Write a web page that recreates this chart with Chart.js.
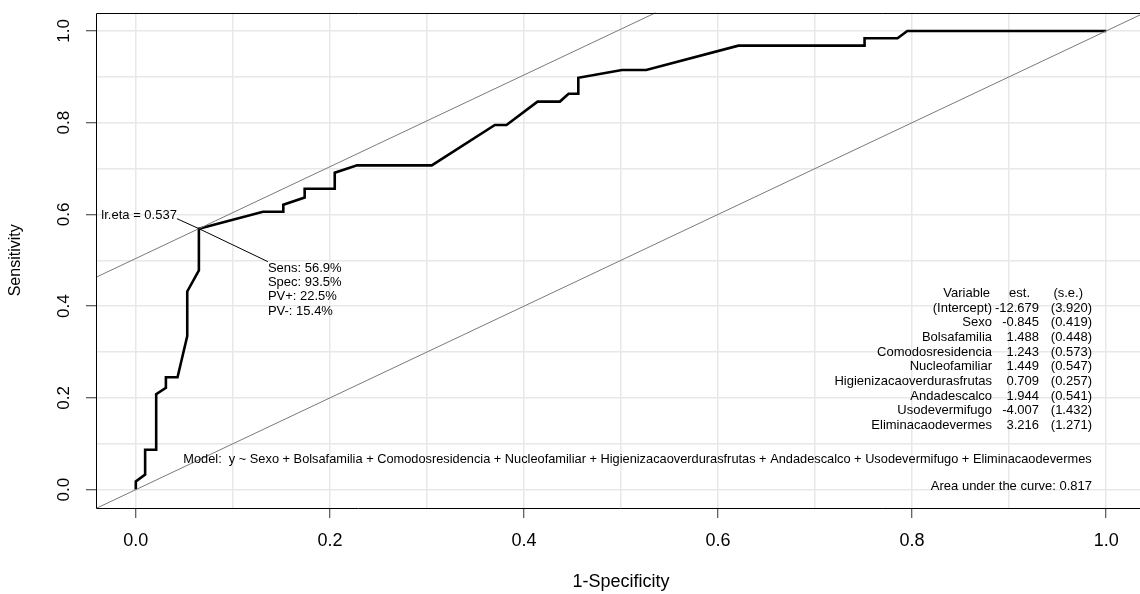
<!DOCTYPE html>
<html>
<head>
<meta charset="utf-8">
<script src="https://cdn.jsdelivr.net/npm/chart.js@4"></script>
<style>
  html, body { margin: 0; padding: 0; background: #fff; overflow: hidden; }
  #wrap { position: relative; width: 1145px; height: 594px; }
</style>
</head>
<body>
<div id="wrap"><canvas id="c"></canvas></div>
<script>
// ---- data ----
const fpr  = [0, 0, 0.0096, 0.0096, 0.021, 0.021, 0.031, 0.031, 0.043, 0.053, 0.053, 0.065, 0.065,
              0.131, 0.152, 0.152, 0.174, 0.174, 0.205, 0.205, 0.228, 0.305,
              0.370, 0.382, 0.414, 0.437, 0.446, 0.456, 0.456, 0.501, 0.526, 0.621,
              0.751, 0.751, 0.785, 0.795, 1.0];
const sens = [0, 0.018, 0.033, 0.087, 0.087, 0.208, 0.222, 0.245, 0.245, 0.335, 0.432, 0.478, 0.569,
              0.606, 0.606, 0.621, 0.637, 0.656, 0.656, 0.691, 0.707, 0.707,
              0.795, 0.795, 0.846, 0.846, 0.863, 0.863, 0.898, 0.915, 0.915, 0.968,
              0.968, 0.984, 0.984, 1.0, 1.0];
const optFpr = 0.065;      // 1 - Spec (93.5%)
const optSens = 0.569;     // Sens 56.9%
const lrEta = "0.537";
const optLines = ["Sens: 56.9%", "Spec: 93.5%", "PV+: 22.5%", "PV-: 15.4%"];
const gridTicks = [0, 0.1, 0.2, 0.3, 0.4, 0.5, 0.6, 0.7, 0.8, 0.9, 1.0];
const labelTicks = [0, 0.2, 0.4, 0.6, 0.8, 1.0];
const varNames = ["(Intercept)", "Sexo", "Bolsafamilia", "Comodosresidencia", "Nucleofamiliar",
                  "Higienizacaoverdurasfrutas", "Andadescalco", "Usodevermifugo", "Eliminacaodevermes"];
const estimates = ["-12.679", "-0.845", "1.488", "1.243", "1.449", "0.709", "1.944", "-4.007", "3.216"];
const stdErrs = ["(3.920)", "(0.419)", "(0.448)", "(0.573)", "(0.547)", "(0.257)", "(0.541)", "(1.432)", "(1.271)"];
const modelText = "Model:  y ~ Sexo + Bolsafamilia + Comodosresidencia + Nucleofamiliar + Higienizacaoverdurasfrutas + Andadescalco + Usodevermifugo + Eliminacaodevermes";
const aucText = "Area under the curve: 0.817";
const axisMin = -0.04, axisMax = 1.04;

// ---- helpers ----
const FONT = '"Liberation Sans", Arial, Helvetica, sans-serif';
const isLabeled = v => labelTicks.some(t => Math.abs(t - v) < 1e-9);
const rocPts = fpr.map((x, i) => ({ x: x, y: sens[i] }));
const diagPts = [{ x: axisMin, y: axisMin }, { x: axisMax, y: axisMax }];
const icpt = optSens - optFpr;
const tangPts = [{ x: axisMin, y: axisMin + icpt }, { x: axisMax - icpt, y: axisMax }];
const zeroPad = s => { s.paddingTop = 0; s.paddingBottom = 0; s.paddingLeft = 0; s.paddingRight = 0; };

const annot = {
  id: 'annot',
  afterDatasetsDraw(chart) {
    const { ctx, chartArea: a, scales: { x, y } } = chart;
    const px = x.getPixelForValue(optFpr), py = y.getPixelForValue(optSens);
    ctx.save();
    // pointer segments
    ctx.strokeStyle = '#000'; ctx.lineWidth = 1;
    ctx.beginPath();
    ctx.moveTo(px - 22, py - 10); ctx.lineTo(px, py); ctx.lineTo(px + 69, py + 33);
    ctx.stroke();
    ctx.fillStyle = '#000';
    ctx.textBaseline = 'middle';
    ctx.font = '13px ' + FONT;
    ctx.textAlign = 'right';
    ctx.fillText('lr.eta = ' + lrEta, px - 22, py - 13);
    ctx.textAlign = 'left';
    optLines.forEach((t, i) => ctx.fillText(t, px + 69, py + 39.5 + i * 14.3));

    // coefficient table
    const rowH = 14.67, top = 293.3;
    ctx.textAlign = 'right';
    ctx.fillText('Variable', 990, top);
    ctx.fillText('est.', 1030, top);
    ctx.fillText('(s.e.)', 1083, top);
    varNames.forEach((n, i) => {
      const yy = top + (i + 1) * rowH;
      ctx.fillText(n, 992, yy);
      ctx.fillText(estimates[i], 1039, yy);
      ctx.fillText(stdErrs[i], 1092, yy);
    });
    ctx.font = '12.8px ' + FONT;
    ctx.textAlign = 'center';
    ctx.fillText(modelText, 637.5, 459);
    ctx.font = '13px ' + FONT;
    ctx.textAlign = 'right';
    ctx.fillText(aucText, 1092, 486.5);

    // plot box (its right side lies outside the visible window, as in the reference)
    const L = Math.round(a.left) - 0.5, T = Math.round(a.top) + 0.5, B = Math.round(a.bottom) + 0.5;
    ctx.strokeStyle = '#000'; ctx.lineWidth = 1;
    ctx.beginPath();
    ctx.moveTo(a.right, T); ctx.lineTo(L, T); ctx.lineTo(L, B); ctx.lineTo(a.right, B);
    ctx.stroke();
    ctx.restore();
  }
};

new Chart(document.getElementById('c'), {
  type: 'scatter',
  data: {
    datasets: [
      { data: diagPts, showLine: true, borderColor: '#7a7a7a', borderWidth: 1, pointRadius: 0 },
      { data: tangPts, showLine: true, borderColor: '#7a7a7a', borderWidth: 1, pointRadius: 0 },
      { data: rocPts, showLine: true, borderColor: '#000', borderWidth: 2.6, pointRadius: 0,
        borderJoinStyle: 'miter' }
    ]
  },
  options: {
    responsive: true,
    maintainAspectRatio: false,
    animation: false,
    events: [],
    layout: { padding: { top: 12.6, right: 0, bottom: 0, left: 0 } },
    plugins: { legend: { display: false }, tooltip: { enabled: false } },
    scales: {
      x: {
        type: 'linear', min: axisMin, max: axisMax,
        afterBuildTicks: s => { s.ticks = gridTicks.map(v => ({ value: v })); },
        afterFit: s => { s.height = 86; zeroPad(s); },
        grid: {
          color: '#e8e8e8', lineWidth: 1.5, tickLength: 10, tickWidth: 1,
          tickColor: c => (c.tick && isLabeled(c.tick.value)) ? '#333' : 'rgba(0,0,0,0)'
        },
        border: { display: false },
        ticks: {
          maxRotation: 0, minRotation: 0, autoSkip: false, padding: 12,
          color: '#000', font: { size: 18, family: FONT },
          callback: v => isLabeled(v) ? v.toFixed(1) : ''
        },
        title: { display: true, text: '1-Specificity', color: '#000',
                 font: { size: 18, family: FONT }, padding: { top: 0, bottom: 1.5 } }
      },
      y: {
        type: 'linear', min: axisMin, max: axisMax,
        afterBuildTicks: s => { s.ticks = gridTicks.map(v => ({ value: v })); },
        afterFit: s => { s.width = 97; zeroPad(s); },
        grid: {
          color: '#e8e8e8', lineWidth: 1.5, tickLength: 11, tickWidth: 1,
          tickColor: c => (c.tick && isLabeled(c.tick.value)) ? '#333' : 'rgba(0,0,0,0)'
        },
        border: { display: false },
        ticks: {
          minRotation: 90, maxRotation: 90, crossAlign: 'center', autoSkip: false, padding: 10,
          color: '#000', font: { size: 17, family: FONT },
          callback: v => isLabeled(v) ? v.toFixed(1) : ''
        },
        title: { display: true, text: 'Sensitivity', color: '#000',
                 font: { size: 16, family: FONT }, padding: { top: 6.4, bottom: 0 } }
      }
    }
  },
  plugins: [annot]
});
</script>
</body>
</html>
